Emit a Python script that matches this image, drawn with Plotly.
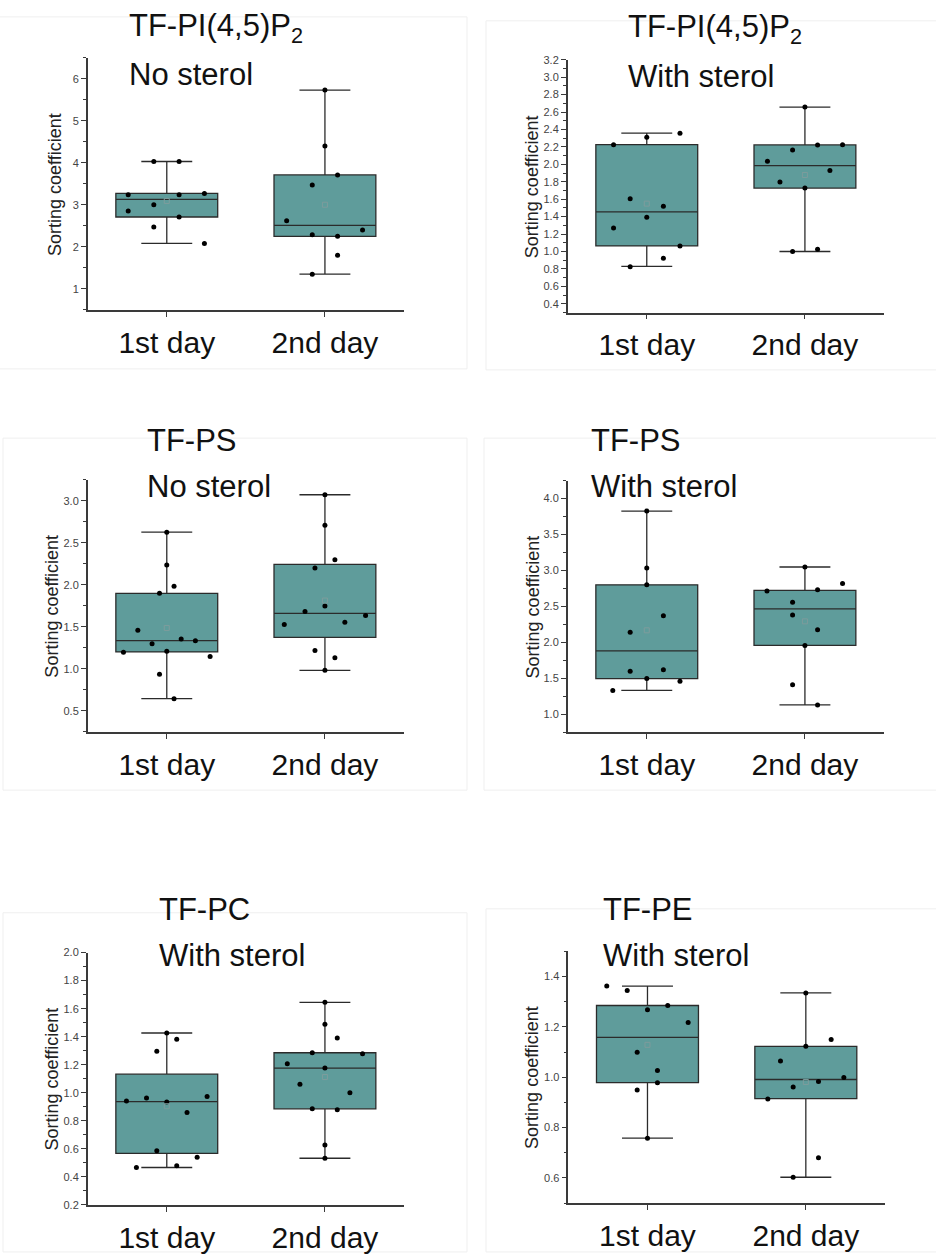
import numpy as np
import plotly.graph_objects as go

W, H = 936, 1254
FONT = "Liberation Sans, Arial, sans-serif"

categories = ["1st day", "2nd day"]

# ---- data: point values ----
pip2_no_d1 = [3.24, 2.85, 4.03, 3.00, 2.47, 4.03, 3.24, 2.71, 3.27, 2.08]
pip2_no_d2 = [5.73, 4.40, 3.71, 3.47, 2.62, 2.29, 2.25, 2.40, 1.80, 1.35]
pip2_st_d1 = [2.225, 2.31, 2.357, 1.606, 1.394, 1.519, 1.269, 1.064, 0.924, 0.825]
pip2_st_d2 = [2.657, 2.035, 2.164, 2.221, 2.225, 1.796, 1.929, 1.728, 0.999, 1.026]
ps_no_d1 = [2.628, 2.236, 1.985, 1.899, 1.46, 1.30, 1.354, 1.335, 1.209, 1.197, 1.147, 0.935, 0.645]
ps_no_d2 = [3.074, 2.71, 2.299, 2.20, 1.75, 1.683, 1.636, 1.527, 1.554, 1.217, 1.131, 0.982]
ps_st_d1 = [3.826, 3.034, 2.80, 2.37, 2.14, 1.596, 1.618, 1.495, 1.458, 1.33]
ps_st_d2 = [3.048, 2.819, 2.713, 2.732, 2.557, 2.379, 2.173, 1.957, 1.408, 1.128]
pc_st_d1 = [1.426, 1.381, 1.296, 0.941, 0.962, 0.934, 0.972, 0.859, 0.586, 0.539, 0.466, 0.478]
pc_st_d2 = [1.645, 1.489, 1.391, 1.285, 1.278, 1.207, 1.176, 1.061, 1.0, 0.885, 0.878, 0.626, 0.532]
pe_st_d1 = [1.362, 1.344, 1.268, 1.285, 1.217, 1.099, 1.027, 0.949, 0.978, 0.758]
pe_st_d2 = [1.335, 1.15, 1.123, 1.065, 0.999, 0.983, 0.961, 0.914, 0.680, 0.603]

# ---- horizontal jitter of each point (fraction of category spacing) ----
pip2_no_d1_jit = [-0.244, -0.244, -0.082, -0.082, -0.082, 0.078, 0.078, 0.078, 0.238, 0.238]
pip2_no_d2_jit = [0, 0, 0.08, -0.08, -0.242, -0.08, 0.08, 0.238, 0.08, -0.08]
pip2_st_d1_jit = [-0.21, 0, 0.21, -0.105, 0, 0.105, -0.21, 0.21, 0.105, -0.105]
pip2_st_d2_jit = [0, -0.237, -0.078, 0.08, 0.238, -0.158, 0.158, 0, -0.078, 0.08]
ps_no_d1_jit = [0, 0, 0.046, -0.046, -0.183, -0.093, 0.091, 0.181, 0, -0.274, 0.274, -0.046, 0.046]
ps_no_d2_jit = [0, 0, 0.063, -0.063, 0, -0.126, 0.257, -0.257, 0.126, -0.063, 0.063, 0]
ps_st_d1_jit = [0, 0, 0, 0.105, -0.105, -0.105, 0.105, 0, 0.21, -0.215]
ps_st_d2_jit = [0, 0.238, -0.24, 0.08, -0.078, -0.078, 0.08, 0, -0.078, 0.08]
pc_st_d1_jit = [0, 0.063, -0.063, -0.255, -0.128, 0, 0.255, 0.128, -0.063, 0.192, -0.192, 0.063]
pc_st_d2_jit = [0, 0, 0.078, -0.08, 0.238, -0.238, 0, -0.158, 0.158, -0.08, 0.078, 0, 0]
pe_st_d1_jit = [-0.257, -0.128, 0, 0.128, 0.257, -0.065, 0.063, -0.065, 0.063, 0]
pe_st_d2_jit = [0, 0.16, 0, -0.16, 0.24, 0.08, -0.08, -0.24, 0.08, -0.08]

# ---- box statistics: [lower whisker, Q1, median, Q3, upper whisker] ----
pip2_no_d1_box = [2.08, 2.71, 3.13, 3.27, 4.03]
pip2_no_d2_box = [1.35, 2.25, 2.51, 3.71, 5.73]
pip2_st_d1_box = [0.83, 1.064, 1.455, 2.225, 2.357]
pip2_st_d2_box = [1.0, 1.728, 1.986, 2.222, 2.657]
ps_no_d1_box = [0.645, 1.201, 1.335, 1.899, 2.628]
ps_no_d2_box = [0.982, 1.374, 1.66, 2.244, 3.074]
ps_st_d1_box = [1.33, 1.495, 1.88, 2.80, 3.826]
ps_st_d2_box = [1.128, 1.957, 2.466, 2.722, 3.048]
pc_st_d1_box = [0.466, 0.567, 0.936, 1.132, 1.426]
pc_st_d2_box = [0.532, 0.885, 1.176, 1.285, 1.645]
pe_st_d1_box = [0.758, 0.979, 1.158, 1.285, 1.362]
pe_st_d2_box = [0.603, 0.915, 0.991, 1.123, 1.335]

# ---- titles ----
titles = ["TF-PI(4,5)P<sub>2</sub>", "TF-PI(4,5)P<sub>2</sub>", "TF-PS", "TF-PS", "TF-PC", "TF-PE"]
subtitles = ["No sterol", "With sterol", "No sterol", "With sterol", "With sterol", "With sterol"]
y_title = "Sorting coefficient"

panels = [
    dict(series=[(pip2_no_d1, pip2_no_d1_jit, pip2_no_d1_box), (pip2_no_d2, pip2_no_d2_jit, pip2_no_d2_box)],
         xpx=(87.7, 404), ypx=(52.3, 307.3), yr=(0.5, 6.5), dt=1, mdt=0.5, fmt="d",
         tpos=(126.7, 22.5), spos=(126.7, 69), ytpos=(55, 181), frame=(-2, 11, 467, 367)),
    dict(series=[(pip2_st_d1, pip2_st_d1_jit, pip2_st_d1_box), (pip2_st_d2, pip2_st_d2_jit, pip2_st_d2_box)],
         xpx=(567.7, 884), ypx=(54.3, 310), yr=(0.3, 3.2), dt=0.2, mdt=0.1, fmt=".1f",
         tpos=(626, 23.3), spos=(626, 70.8), ytpos=(532.7, 182.5), frame=(486, 15, 940, 368)),
    dict(series=[(ps_no_d1, ps_no_d1_jit, ps_no_d1_box), (ps_no_d2, ps_no_d2_jit, ps_no_d2_box)],
         xpx=(87.7, 404), ypx=(479.3, 734), yr=(0.25, 3.25), dt=0.5, mdt=0.25, fmt=".1f",
         tpos=(145, 439), spos=(145, 486), ytpos=(51.7, 606.7), frame=(3, 437, 467, 793)),
    dict(series=[(ps_st_d1, ps_st_d1_jit, ps_st_d1_box), (ps_st_d2, ps_st_d2_jit, ps_st_d2_box)],
         xpx=(567.7, 884), ypx=(480, 734.3), yr=(0.75, 4.25), dt=0.5, mdt=0.25, fmt=".1f",
         tpos=(589.3, 439), spos=(589.3, 486), ytpos=(532.7, 607.5), frame=(484, 437, 940, 793)),
    dict(series=[(pc_st_d1, pc_st_d1_jit, pc_st_d1_box), (pc_st_d2, pc_st_d2_jit, pc_st_d2_box)],
         xpx=(87.7, 404), ypx=(957.3, 1212.3), yr=(0.2, 2.0), dt=0.2, mdt=0.1, fmt=".1f",
         tpos=(156.7, 913.7), spos=(156.7, 960), ytpos=(51.7, 1085), frame=(3, 917, 467, 1260)),
    dict(series=[(pe_st_d1, pe_st_d1_jit, pe_st_d1_box), (pe_st_d2, pe_st_d2_jit, pe_st_d2_box)],
         xpx=(568.3, 885), ypx=(956, 1210.7), yr=(0.5, 1.5), dt=0.2, mdt=0.1, fmt=".1f",
         tpos=(601, 913.7), spos=(601, 960), ytpos=(532.7, 1083.3), frame=(486, 913, 940, 1260)),
]

BOX_FILL = "#5f9c9b"
EDGE = "#2b2b2b"
AXIS = "#3a3a3a"

fig = go.Figure()
layout = {}
annotations = []
shapes = []


def px_x(x):
    return x / W


def px_y(y):
    return 1 - y / H


for k, p in enumerate(panels):
    n = k + 1
    xa = "x" if n == 1 else f"x{n}"
    ya = "y" if n == 1 else f"y{n}"
    for ci, (vals, jit, box) in enumerate(p["series"]):
        fig.add_trace(go.Box(
            x=[ci], lowerfence=[box[0]], q1=[box[1]], median=[box[2]], q3=[box[3]],
            upperfence=[box[4]], width=0.644, whiskerwidth=0.5,
            fillcolor=BOX_FILL, line=dict(color=EDGE, width=1.3),
            boxpoints=False, showlegend=False, hoverinfo="skip",
            xaxis=xa, yaxis=ya,
        ))
        fig.add_trace(go.Scatter(
            x=[ci + j for j in jit], y=vals, mode="markers",
            marker=dict(color="black", size=5), showlegend=False,
            xaxis=xa, yaxis=ya, hoverinfo="skip",
        ))
        fig.add_trace(go.Scatter(
            x=[ci], y=[float(np.mean(vals))], mode="markers",
            marker=dict(symbol="square-open", color="#7d9c9c", size=5, line=dict(width=1)),
            showlegend=False, xaxis=xa, yaxis=ya, hoverinfo="skip",
        ))
    xk = "xaxis" if n == 1 else f"xaxis{n}"
    yk = "yaxis" if n == 1 else f"yaxis{n}"
    layout[xk] = dict(
        domain=[px_x(p["xpx"][0]), px_x(p["xpx"][1])], anchor=ya,
        range=[-0.5, 1.5], tickmode="array", tickvals=[0, 1], ticktext=categories,
        showline=True, linecolor=AXIS, linewidth=1.5, ticks="outside", ticklen=5,
        tickcolor=AXIS, tickwidth=1.2, showgrid=False, zeroline=False,
        tickfont=dict(family=FONT, size=30, color="#111"), fixedrange=True,
    )
    layout[yk] = dict(
        domain=[px_y(p["ypx"][1]), px_y(p["ypx"][0])], anchor=xa,
        range=list(p["yr"]), tick0=0, dtick=p["dt"], tickformat=p["fmt"],
        showline=True, linecolor=AXIS, linewidth=1.5, ticks="outside", ticklen=5,
        tickcolor=AXIS, tickwidth=1.1, showgrid=False, zeroline=False,
        minor=dict(dtick=p["mdt"], tick0=0, ticks="outside", ticklen=3, tickcolor=AXIS, tickwidth=1),
        tickfont=dict(family=FONT, size=11, color="#444"), fixedrange=True,
    )
    annotations.append(dict(
        text=titles[k], x=px_x(p["tpos"][0]), y=px_y(p["tpos"][1]), xref="paper", yref="paper",
        xanchor="left", yanchor="middle", showarrow=False,
        font=dict(family=FONT, size=31, color="#111"),
    ))
    annotations.append(dict(
        text=subtitles[k], x=px_x(p["spos"][0]), y=px_y(p["spos"][1]), xref="paper", yref="paper",
        xanchor="left", yanchor="middle", showarrow=False,
        font=dict(family=FONT, size=31, color="#111"),
    ))
    annotations.append(dict(
        text=y_title, x=px_x(p["ytpos"][0]), y=px_y(p["ytpos"][1]), xref="paper", yref="paper",
        xanchor="center", yanchor="middle", textangle=-90, showarrow=False,
        font=dict(family=FONT, size=18, color="#222"),
    ))
    fx0, fy0, fx1, fy1 = p["frame"]
    shapes.append(dict(type="rect", xref="paper", yref="paper",
                       x0=px_x(fx0), x1=px_x(fx1), y0=px_y(fy1), y1=px_y(fy0),
                       line=dict(color="#efefef", width=1), layer="below"))

fig.update_layout(
    width=W, height=H, margin=dict(l=0, r=0, t=0, b=0),
    paper_bgcolor="white", plot_bgcolor="white",
    annotations=annotations, shapes=shapes, showlegend=False,
    **layout,
)

fig.write_html("out.html", config={"displayModeBar": False})
